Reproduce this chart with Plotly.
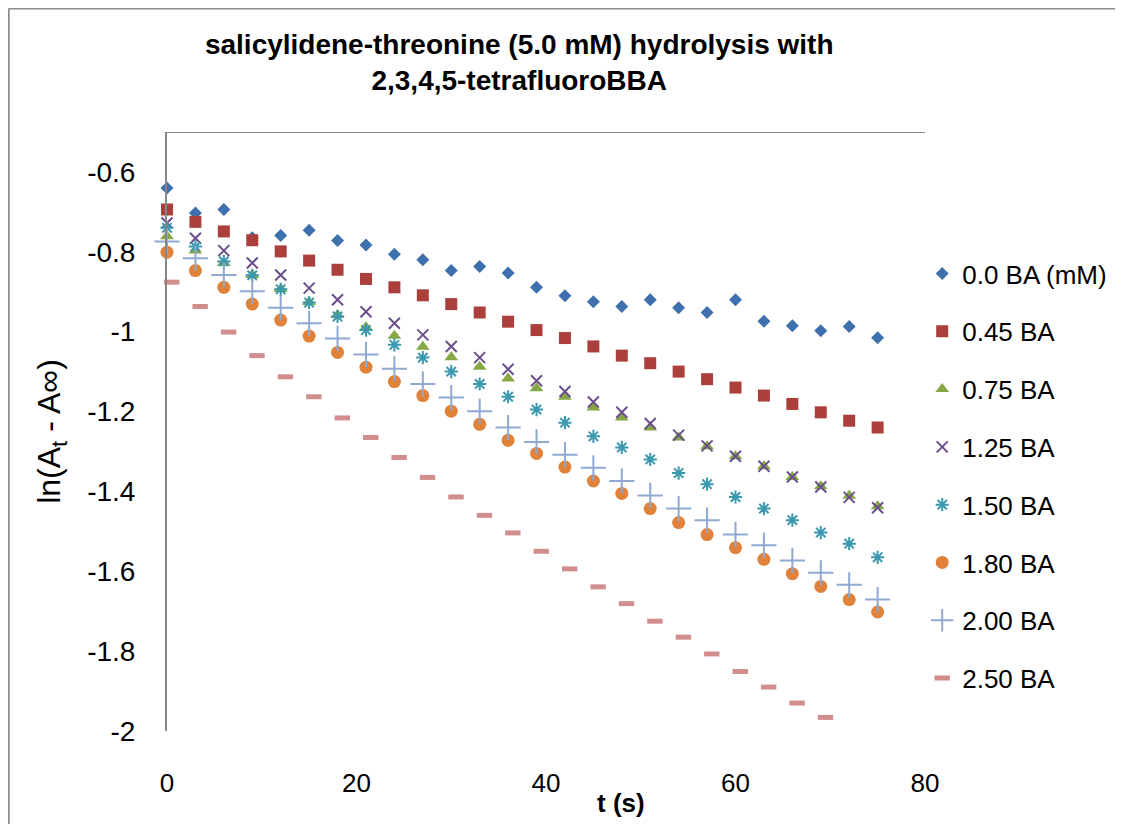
import plotly.graph_objects as go

# ---- data ----
t = [0, 3, 6, 9, 12, 15, 18, 21, 24, 27, 30, 33, 36, 39, 42, 45, 48, 51, 54, 57, 60, 63, 66, 69, 72, 75]
t_250 = [0.5, 3.5, 6.5, 9.5, 12.5, 15.5, 18.5, 21.5, 24.5, 27.5, 30.5, 33.5, 36.5, 39.5,
         42.5, 45.5, 48.5, 51.5, 54.5, 57.5, 60.5, 63.5, 66.5, 69.5]

ba_000 = [-0.640, -0.703, -0.694, -0.765, -0.759, -0.746, -0.772, -0.783, -0.806, -0.820, -0.847, -0.837, -0.853,
          -0.889, -0.910, -0.925, -0.937, -0.920, -0.940, -0.952, -0.920, -0.974, -0.985, -0.998, -0.987, -1.015]
ba_045 = [-0.694, -0.725, -0.749, -0.771, -0.799, -0.822, -0.845, -0.868, -0.889, -0.909, -0.931, -0.952, -0.975,
          -0.996, -1.016, -1.037, -1.060, -1.079, -1.100, -1.119, -1.140, -1.160, -1.181, -1.202, -1.223, -1.240]
ba_075 = [-0.761, -0.797, -0.828, -0.858, -0.893, -0.926, -0.958, -0.989, -1.010, -1.038, -1.064, -1.088, -1.117,
          -1.142, -1.163, -1.190, -1.215, -1.240, -1.265, -1.287, -1.312, -1.337, -1.364, -1.387, -1.411, -1.437]
ba_125 = [-0.728, -0.766, -0.797, -0.828, -0.858, -0.891, -0.920, -0.950, -0.979, -1.008, -1.037, -1.065, -1.094,
          -1.123, -1.150, -1.176, -1.202, -1.230, -1.259, -1.286, -1.312, -1.337, -1.364, -1.389, -1.415, -1.441]
ba_150 = [-0.740, -0.787, -0.824, -0.859, -0.894, -0.927, -0.962, -0.996, -1.033, -1.065, -1.100, -1.131, -1.163,
          -1.195, -1.228, -1.262, -1.290, -1.320, -1.354, -1.382, -1.414, -1.443, -1.472, -1.503, -1.531, -1.565]
ba_180 = [-0.801, -0.847, -0.889, -0.931, -0.971, -1.011, -1.052, -1.089, -1.125, -1.160, -1.199, -1.232, -1.272,
          -1.305, -1.339, -1.374, -1.405, -1.443, -1.478, -1.508, -1.541, -1.570, -1.606, -1.638, -1.671, -1.702]
ba_200 = [-0.774, -0.816, -0.858, -0.899, -0.940, -0.979, -1.017, -1.057, -1.093, -1.131, -1.165, -1.199, -1.240,
          -1.276, -1.308, -1.341, -1.374, -1.410, -1.443, -1.472, -1.508, -1.535, -1.573, -1.604, -1.634, -1.671]
ba_250 = [-0.876, -0.937, -1.001, -1.060, -1.113, -1.163, -1.216, -1.265, -1.315, -1.365, -1.414, -1.460,
          -1.504, -1.550, -1.594, -1.639, -1.681, -1.725, -1.765, -1.807, -1.851, -1.890, -1.930, -1.966]

series_names = ["0.0 BA (mM)", "0.45 BA", "0.75 BA", "1.25 BA", "1.50 BA", "1.80 BA", "2.00 BA", "2.50 BA"]

y_tickvals = [-2, -1.8, -1.6, -1.4, -1.2, -1, -0.8, -0.6]
y_ticktext = ["-2", "-1.8", "-1.6", "-1.4", "-1.2", "-1", "-0.8", "-0.6"]
x_tickvals = [0, 20, 40, 60, 80]
x_ticktext = ["0", "20", "40", "60", "80"]

title_text = "salicylidene-threonine (5.0 mM) hydrolysis with<br>2,3,4,5-tetrafluoroBBA"
x_title = "t (s)"
y_title = "ln(A<sub>t</sub> - A∞)"

# ---- styles ----
FONT = "Liberation Sans, Arial, sans-serif"
styles = [
    dict(symbol="diamond", size=10, color="#3F70AE", line=dict(width=0)),
    dict(symbol="square", size=12, color="#AA3F3C", line=dict(width=0)),
    dict(symbol="triangle-up", size=12, color="#86A844", line=dict(width=0)),
    dict(symbol="x-thin-open", size=11, color="#6B4E8C", line=dict(width=2, color="#6B4E8C")),
    dict(symbol="asterisk-open", size=11, color="#3A98AF", line=dict(width=2, color="#3A98AF")),
    dict(symbol="circle", size=13, color="#E0823A", line=dict(width=0)),
    dict(symbol="cross-thin-open", size=18, color="#8FA9D3", line=dict(width=2, color="#8FA9D3")),
    dict(symbol="line-ew-open", size=11, color="#D28E8E", line=dict(width=5, color="#D28E8E")),
]

xs = [t, t, t, t, t, t, t, t_250]
ys = [ba_000, ba_045, ba_075, ba_125, ba_150, ba_180, ba_200, ba_250]

fig = go.Figure()
for i, (name, x, y, st) in enumerate(zip(series_names, xs, ys, styles)):
    fig.add_trace(go.Scatter(x=x, y=y, mode="markers", name=name, marker=st,
                             legendgroup=f"g{i}", cliponaxis=False))

W, H = 1115, 816
L, T = 159, 124
PW, PH = 759, 599
R, B = W - L - PW, H - T - PH

axis_gray = "#868686"
fig.update_layout(
    width=W, height=H,
    margin=dict(l=L, r=R, t=T, b=B),
    paper_bgcolor="white", plot_bgcolor="white",
    font=dict(family=FONT, color="black"),
    title=dict(text="<b>" + title_text + "</b>", x=0.4647, xref="paper", xanchor="center",
               y=1 - 46 / H, yanchor="middle", font=dict(size=28, family=FONT, color="black")),
    xaxis=dict(range=[0, 80], tickvals=x_tickvals, ticktext=x_ticktext, showgrid=False,
               zeroline=False, showline=False, ticks="", tickfont=dict(size=26),
               ticklabelstandoff=34),
    yaxis=dict(range=[-2, -0.5], tickvals=y_tickvals, ticktext=y_ticktext, showgrid=False,
               zeroline=False, showline=True, linecolor=axis_gray, linewidth=2, ticks="",
               tickfont=dict(size=28), ticklabelstandoff=24,
               title=dict(text=y_title, font=dict(size=32), standoff=17)),
    legend=dict(x=0.995, xanchor="left", y=0.4256, yanchor="middle", font=dict(size=26),
                tracegroupgap=21, bgcolor="rgba(0,0,0,0)"),
    showlegend=True,
)

# x-axis line crossing at the top of the plot
fig.add_shape(type="line", xref="x", yref="y", x0=0, x1=80, y0=-0.5, y1=-0.5,
              line=dict(color=axis_gray, width=2))
# outer chart border (left and top visible) at the figure edge
bx = (0.5 - L) / PW
by = 1 + (T - 0.5) / PH
fig.add_shape(type="line", xref="paper", yref="paper", x0=bx, x1=bx, y0=-0.3, y1=by,
              line=dict(color="#8C8C8C", width=2))
fig.add_shape(type="line", xref="paper", yref="paper", x0=bx, x1=1.4, y0=by, y1=by,
              line=dict(color="#8C8C8C", width=2))

fig.add_annotation(text="<b>" + x_title + "</b>", xref="paper", yref="paper", x=0.599, y=-0.121,
                   xanchor="center", yanchor="middle", showarrow=False, font=dict(size=26, family=FONT))

fig.write_html("out.html")
